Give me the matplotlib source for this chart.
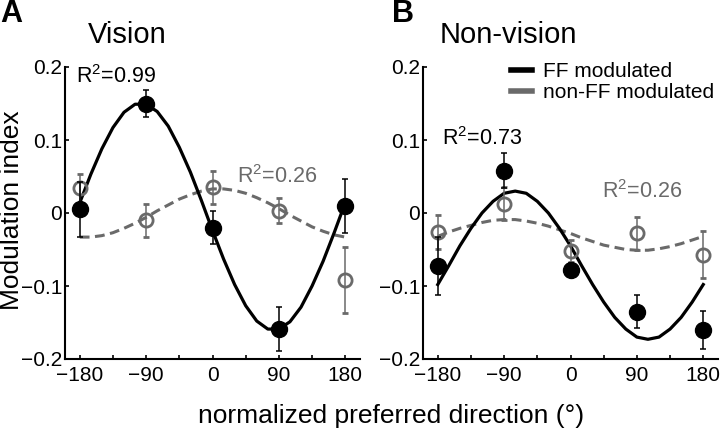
import matplotlib
matplotlib.use("Agg")
import matplotlib.pyplot as plt
from matplotlib.lines import Line2D
from matplotlib.ticker import MultipleLocator

plt.rcParams['font.family'] = ['Liberation Sans', 'DejaVu Sans']
plt.rcParams['mathtext.fontset'] = 'custom'
plt.rcParams['mathtext.rm'] = 'Liberation Sans'

# directions of the data points
directions = [-180, -90, 0, 90, 180]

# panel A (Vision)
vis_ff = [0.005, 0.150, -0.020, -0.159, 0.009]
vis_ff_err = [0.038, 0.019, 0.023, 0.030, 0.037]
vis_nonff = [0.034, -0.010, 0.035, 0.003, -0.092]
vis_nonff_err = [0.020, 0.023, 0.022, 0.017, 0.045]

# panel B (Non-vision)
nv_ff = [-0.073, 0.058, -0.078, -0.135, -0.160]
nv_ff_err = [0.040, 0.024, 0.010, 0.023, 0.026]
nv_nonff = [-0.026, 0.013, -0.052, -0.028, -0.057]
nv_nonff_err = [0.023, 0.022, 0.015, 0.022, 0.032]

# fitted curves, read every 15 deg
fit_x = list(range(-180, 181, 15))
vis_ff_fit = [0.014, 0.053, 0.088, 0.117, 0.138, 0.149, 0.149, 0.139, 0.119,
              0.090, 0.056, 0.017, -0.024, -0.063, -0.098, -0.127, -0.148,
              -0.159, -0.159, -0.149, -0.129, -0.100, -0.066, -0.027, 0.014]
vis_nonff_fit = [-0.033, -0.033, -0.031, -0.027, -0.021, -0.014, -0.006, 0.003,
                 0.011, 0.019, 0.025, 0.030, 0.033, 0.033, 0.031, 0.027, 0.021,
                 0.014, 0.006, -0.003, -0.011, -0.019, -0.025, -0.030, -0.033]
nv_ff_fit = [-0.098, -0.072, -0.045, -0.021, 0.000, 0.016, 0.027, 0.030, 0.027,
             0.016, 0.000, -0.021, -0.045, -0.072, -0.098, -0.122, -0.143,
             -0.159, -0.170, -0.173, -0.170, -0.159, -0.143, -0.122, -0.098]
nv_nonff_fit = [-0.032, -0.026, -0.021, -0.017, -0.013, -0.010, -0.009, -0.009,
                -0.011, -0.014, -0.018, -0.023, -0.028, -0.034, -0.039, -0.044,
                -0.047, -0.050, -0.051, -0.051, -0.049, -0.046, -0.042, -0.037,
                -0.032]

r2_labels = {'A': ('0.99', '0.26'), 'B': ('0.73', '0.26')}

gray = '#6a6a6a'

fig = plt.figure(figsize=(7.2, 4.32), dpi=100)
axA = fig.add_axes([65 / 720, 1 - 359 / 432, 295 / 720, 292 / 432])
axB = fig.add_axes([423 / 720, 1 - 359 / 432, 295 / 720, 292 / 432])


def draw_panel(ax, ff, ff_err, nonff, nonff_err, ff_fit, nonff_fit):
    ax.plot(fit_x, nonff_fit, color=gray, lw=2.2, dashes=(3.2, 1.8), zorder=2)
    ax.plot(fit_x, ff_fit, color='black', lw=2.3, zorder=3)
    ax.errorbar(directions, nonff, yerr=nonff_err, fmt='o', ms=9.5,
                mfc='none', mec=gray, mew=2, ecolor=gray, elinewidth=1.1,
                capsize=2.5, capthick=1.1, zorder=4)
    ax.errorbar(directions, ff, yerr=ff_err, fmt='o', ms=11.5,
                mfc='black', mec='black', ecolor='black', elinewidth=1.1,
                capsize=2.5, capthick=1.1, zorder=5)
    ax.set_xlim(-200, 200)
    ax.set_ylim(-0.2, 0.2)
    ax.set_xticks(directions)
    ax.set_xticklabels(['\u2212180', '\u221290', '0', '90', '180'])
    ax.xaxis.set_minor_locator(MultipleLocator(45))
    ax.set_yticks([-0.2, -0.1, 0, 0.1, 0.2])
    ax.set_yticklabels(['\u22120.2', '\u22120.1', '0', '0.1', '0.2'])
    ax.tick_params(axis='both', which='both', direction='in', length=3,
                   width=1.2, labelsize=15)
    ax.tick_params(axis='x', pad=5)
    ax.tick_params(axis='y', pad=2)
    for side in ['top', 'right']:
        ax.spines[side].set_visible(False)
    for side in ['left', 'bottom']:
        ax.spines[side].set_linewidth(1.5)
    ax.patch.set_alpha(0)


draw_panel(axA, vis_ff, vis_ff_err, vis_nonff, vis_nonff_err,
           vis_ff_fit, vis_nonff_fit)
draw_panel(axB, nv_ff, nv_ff_err, nv_nonff, nv_nonff_err,
           nv_ff_fit, nv_nonff_fit)

# R^2 annotations
axA.text(-185, 0.178, 'R$^2$=' + r2_labels['A'][0], fontsize=15.5, color='black')
axA.text(33, 0.041, 'R$^2$=' + r2_labels['A'][1], fontsize=15.5, color=gray)
axB.text(-174, 0.093, 'R$^2$=' + r2_labels['B'][0], fontsize=15.5, color='black')
axB.text(43, 0.0205, 'R$^2$=' + r2_labels['B'][1], fontsize=15.5, color=gray)

# legend
handles = [Line2D([], [], color='black', lw=4),
           Line2D([], [], color=gray, lw=4)]
axB.legend(handles, ['FF modulated', 'non-FF modulated'], loc='upper right',
           bbox_to_anchor=(1.015, 1.045), frameon=False, fontsize=15,
           handlelength=1.0, handletextpad=0.55, labelspacing=0.1,
           borderaxespad=0)

# titles and panel letters
fig.text(88 / 720, 1 - 35 / 432, 'Vision', fontsize=21, va='center')
fig.text(440 / 720, 1 - 35 / 432, 'Non-vision', fontsize=21, va='center')
fig.text(0.0, 1 - 14 / 432, 'A', fontsize=22, fontweight='bold', va='center')
fig.text(392 / 720, 1 - 14 / 432, 'B', fontsize=22, fontweight='bold',
         va='center')

fig.text(12 / 720, 1 - 210 / 432, 'Modulation index', fontsize=19,
         rotation=90, ha='center', va='center')
fig.text(391 / 720, 1 - 416 / 432, 'normalized preferred direction (\u00b0)',
         fontsize=19, ha='center', va='center')

fig.savefig('out.png', dpi=100)
